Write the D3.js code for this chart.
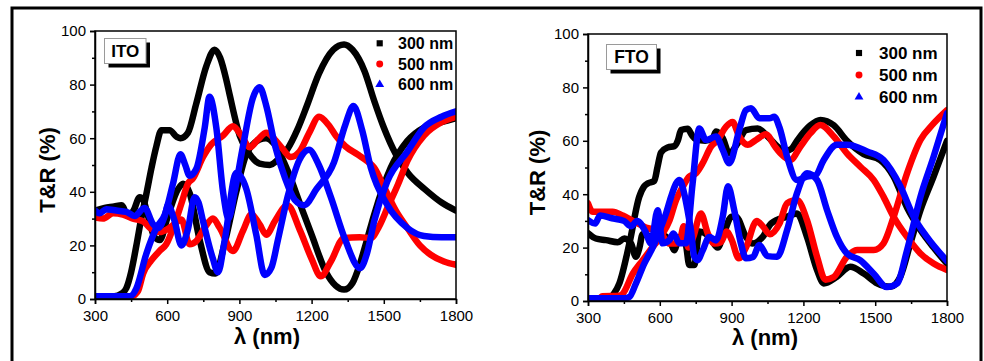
<!DOCTYPE html>
<html>
<head>
<meta charset="utf-8">
<script src="https://cdn.jsdelivr.net/npm/d3@7"></script>
<style>
  body { margin: 0; background: #fff; }
  svg { display: block; }
  text { font-family: "Liberation Sans", Arial, sans-serif; }
</style>
</head>
<body>
<div id="chart"></div>
<script>
// ---- data: [wavelength (nm), T or R (%)] ----
const films = ["300 nm", "500 nm", "600 nm"];
const xTicks = [300, 600, 900, 1200, 1500, 1800];
const xMinor = [450, 750, 1050, 1350, 1650];
const yTicks = [0, 20, 40, 60, 80, 100];
const yMinor = [10, 30, 50, 70, 90];

// ITO
const ito300T = [[300,1],[380,1],[410,2],[430,4],[450,10],[472,20],[492,30],[513,39],[535,49],[555,57],[576,63],[610,63],[640,60.5],[655,60],[686,62],[721,73],[763,87],[797,93],[820,90],[845,82],[860,76],[901,61],[943,54],[984,50.5],[1026,50],[1060,52],[1100,56],[1140,63],[1180,72],[1230,84],[1290,93],[1335,95],[1370,93],[1420,85],[1460,74],[1500,64],[1550,54],[1600,47],[1670,41],[1740,36],[1800,33]];
const ito300R = [[300,33],[340,34],[380,34.5],[410,35],[437,31],[460,33],[486,38],[500,37],[520,31],[548,23],[569,22],[603,31],[645,41],[666,43],[693,39.6],[735,22],[776,10],[800,9.5],[839,21],[887,40],[929,54],[984,59.5],[1010,60],[1044,58],[1100,48],[1150,36],[1200,24],[1260,10],[1300,5],[1335,3.5],[1370,6],[1404,14],[1430,22],[1460,31.5],[1529,49],[1598,59],[1667,64],[1740,66],[1800,67.5]];
const ito500T = [[300,1],[451,1],[470,2],[479,3],[500,9.5],[534,14.4],[569,18],[596,20.4],[631,28],[659,35.6],[686,43],[707,45],[749,53],[783,57.7],[832,61],[873,64.5],[908,61],[943,56.6],[977,59.5],[1012,62],[1047,59.5],[1080,56],[1113,53],[1150,55],[1190,62],[1231,68],[1270,65],[1300,61],[1340,57],[1390,54],[1430,51.5],[1460,49],[1500,42],[1550,33],[1598,26.5],[1650,20],[1695,16.5],[1750,14],[1800,12.8]];
const ito500R = [[300,30.4],[333,30],[375,32],[416,31.5],[458,30],[500,29],[527,26.6],[569,25],[600,26],[630,28],[659,29.7],[693,20.4],[721,21.6],[756,26.6],[790,30],[818,26.6],[873,17.9],[915,25.5],[950,31.6],[984,27.8],[1012,24],[1047,29],[1100,35],[1150,26],[1200,15],[1238,8.5],[1280,14],[1335,22.8],[1400,23],[1446,22.8],[1480,27],[1515,34],[1560,43],[1598,51.5],[1667,61],[1740,66],[1800,68]];
const ito600T = [[300,1],[444,1],[472,4],[513,16.8],[555,26.5],[590,31.5],[624,43],[655,54],[675,50],[693,46],[721,48.6],[756,64],[776,75.5],[804,64],[832,40],[855,30],[880,40],[915,57],[956,75],[984,79],[1012,72],[1047,57.6],[1090,45],[1130,37],[1169,35],[1220,41],[1293,51],[1340,65],[1374,72],[1410,63],[1446,49],[1515,35],[1598,26.5],[1667,23.5],[1740,23],[1800,23]];
const ito600R = [[300,33],[320,32],[347,33.5],[389,33],[430,32.5],[465,31],[506,34],[541,28],[562,26.5],[590,31],[603,35],[631,29],[659,20],[686,26],[714,38],[730,36],[749,29],[790,15],[811,10],[839,22],[887,47],[929,41],[970,24],[1005,9],[1033,11.7],[1060,22],[1100,38],[1150,52],[1189,55.7],[1230,50],[1280,38],[1340,22],[1401,11.5],[1430,17],[1460,29],[1515,44],[1598,55],[1667,64],[1740,68],[1800,70]];

// FTO
const fto300T = [[300,1],[389,1],[410,3],[431,6.6],[473,21.6],[514,39],[535,43],[549,44],[577,45],[590,50],[605,55.6],[633,57.5],[661,58],[675,60],[689,64],[716,64.5],[735,62],[751,60.5],[790,60],[821,61],[835,63.5],[863,61],[890,55.3],[925,59],[960,64],[1009,64.6],[1051,61.6],[1090,58],[1118,56],[1150,57],[1173,60],[1229,65.8],[1271,67.8],[1327,65.8],[1382,60],[1452,55],[1521,52.8],[1577,46.6],[1633,35],[1689,26.6],[1744,20],[1800,14]];
const fto300R = [[300,25.4],[333,23.4],[375,22.8],[424,22],[452,23.4],[480,21.5],[500,16.6],[515,20],[528,25],[570,24],[612,24.7],[647,21.5],[660,19],[682,24],[709,21],[723,13.5],[744,13.5],[765,26],[807,24],[842,20],[870,26],[900,31.6],[918,31.6],[960,24],[988,21.5],[1030,24],[1065,29],[1132,31.6],[1173,32.8],[1215,24],[1257,11.6],[1285,6.6],[1340,9.1],[1396,12.8],[1452,10.3],[1508,6.6],[1563,5.3],[1605,9.1],[1647,21.6],[1689,34],[1744,46.6],[1800,60]];
const fto500T = [[300,1],[347,1],[360,1.8],[430,2],[445,2.7],[487,10.2],[528,15.2],[570,20.2],[612,25.2],[640,30],[668,37.8],[696,42.8],[723,46.6],[751,47.8],[779,51.6],[814,57.8],[842,60.3],[877,65.3],[904,67],[932,61.6],[967,58.5],[1002,60.3],[1044,62.5],[1080,58],[1104,55.3],[1145,52.8],[1187,57.8],[1229,62.8],[1271,65.9],[1327,61.6],[1382,55.3],[1438,50.3],[1494,45.3],[1535,39],[1577,31.5],[1633,24],[1689,17.8],[1744,14],[1800,11.6]];
const fto500R = [[300,36.6],[320,33.4],[361,33.4],[403,33.4],[445,32],[487,30],[514,28.8],[542,27.5],[570,27],[590,27],[605,25.4],[640,21.5],[668,21.5],[682,22],[700,28],[720,20],[740,24],[772,32.8],[800,25.4],[828,21.5],[855,22],[880,26],[900,23],[930,16],[960,20],[1005,30],[1030,28],[1060,25],[1100,29],[1132,36.6],[1173,37.8],[1215,30.3],[1257,16.6],[1292,8],[1327,9],[1382,16.6],[1424,19.1],[1494,19.1],[1535,21.6],[1577,31.5],[1633,47.8],[1689,60.3],[1744,66.5],[1800,71.5]];
const fto600T = [[300,1],[452,1],[473,1.5],[500,6.5],[535,14],[570,20],[605,27.7],[626,32.8],[647,39],[668,44],[682,45.3],[702,40.3],[716,34],[730,26.6],[744,16.6],[758,15.3],[779,18.9],[807,24],[835,22.7],[863,31.6],[885,43],[911,34],[939,21.5],[960,16],[990,16.5],[1016,21],[1050,16.8],[1090,16.6],[1132,26.6],[1173,40.3],[1215,47.8],[1257,45.3],[1299,34],[1340,24],[1382,17.8],[1438,15.2],[1494,10.2],[1549,5.2],[1591,6.5],[1633,19],[1689,39],[1744,54],[1800,70.3]];
const fto600R = [[300,30.3],[330,29],[350,32],[400,31],[450,30],[480,28],[505,30],[540,26],[563,21.6],[591,34],[612,21.6],[640,22.8],[657,25.3],[682,21.6],[709,21.6],[737,44],[765,64.6],[793,60.3],[835,61.6],[863,56.6],[890,51.6],[932,64],[960,71.5],[981,72.2],[1016,68.4],[1058,68.4],[1078,69],[1100,65],[1132,54],[1173,45.3],[1215,46.6],[1250,47],[1285,52.8],[1340,58.5],[1382,58.5],[1466,56],[1535,52.8],[1605,43],[1661,31.5],[1716,24],[1800,15]];

const colors = ["#000000", "#ff0000", "#0000ff"];
const symbols = [d3.symbolSquare, d3.symbolCircle, d3.symbolTriangle];

const svg = d3.select("#chart").append("svg")
  .attr("width", 984)
  .attr("height", 361);

svg.append("rect").attr("width", 984).attr("height", 361).attr("fill", "#fff");

// outer frame of the figure
svg.append("path")
  .attr("d", "M12,361 L12,8 L981,8 L981,361")
  .attr("fill", "none")
  .attr("stroke", "#000")
  .attr("stroke-width", 3);

function drawPanel(p) {
  const x = d3.scaleLinear().domain([300, 1800]).range([p.left, p.right]);
  const y = d3.scaleLinear().domain([0, 100]).range([p.bottom, p.top]);

  svg.append("clipPath").attr("id", "clip-" + p.name)
    .append("rect")
    .attr("x", p.left).attr("y", p.top)
    .attr("width", p.right - p.left).attr("height", p.bottom - p.top);

  const line = d3.line()
    .x(d => x(d[0]))
    .y(d => y(d[1]))
    .curve(d3.curveMonotoneX);

  const curves = svg.append("g").attr("clip-path", `url(#clip-${p.name})`);
  p.series.forEach((pair, i) => {
    pair.forEach(s => {
      curves.append("path")
        .attr("d", line(s))
        .attr("fill", "none")
        .attr("stroke", colors[i])
        .attr("stroke-width", 6.5)
        .attr("stroke-linejoin", "round")
        .attr("stroke-linecap", "round");
    });
  });

  // plot frame
  svg.append("rect")
    .attr("x", p.left).attr("y", p.top)
    .attr("width", p.right - p.left).attr("height", p.bottom - p.top)
    .attr("fill", "none")
    .attr("stroke", "#000")
    .attr("stroke-width", 1.5);

  // X axis
  const gx = svg.append("g")
    .attr("transform", `translate(0,${p.bottom})`)
    .call(d3.axisBottom(x).tickValues(xTicks).tickSize(5).tickPadding(6.5).tickFormat(d3.format("d")));
  svg.append("g")
    .attr("transform", `translate(0,${p.bottom})`)
    .call(d3.axisBottom(x).tickValues(xMinor).tickSize(3).tickFormat(""))
    .select(".domain").remove();

  // Y axis
  const gy = svg.append("g")
    .attr("transform", `translate(${p.left},0)`)
    .call(d3.axisLeft(y).tickValues(yTicks).tickSize(5).tickPadding(4));
  svg.append("g")
    .attr("transform", `translate(${p.left},0)`)
    .call(d3.axisLeft(y).tickValues(yMinor).tickSize(3).tickFormat(""))
    .select(".domain").remove();

  svg.selectAll(".tick line").attr("stroke-width", 1.5);
  [gx, gy].forEach(g => {
    g.select(".domain").attr("stroke-width", 1.5);
    g.selectAll("text")
      .attr("font-size", 15)
      .attr("font-family", "Liberation Sans, Arial, sans-serif")
      .attr("fill", "#000");
  });

  // axis titles
  svg.append("text")
    .attr("transform", `translate(${p.yTitleX},${(p.top + p.bottom) / 2 + 5}) rotate(-90)`)
    .attr("text-anchor", "middle")
    .attr("font-size", 22)
    .attr("font-weight", "bold")
    .text("T&R (%)");

  svg.append("text")
    .attr("x", p.xTitleX)
    .attr("y", p.xTitleY)
    .attr("text-anchor", "middle")
    .attr("font-size", 22)
    .attr("font-weight", "bold")
    .text("λ (nm)");

  // label box with shadow
  const b = p.box;
  svg.append("rect")
    .attr("x", b.x + 4).attr("y", b.y + 4)
    .attr("width", b.w).attr("height", b.h)
    .attr("fill", "#000");
  svg.append("rect")
    .attr("x", b.x).attr("y", b.y)
    .attr("width", b.w).attr("height", b.h)
    .attr("fill", "#fff")
    .attr("stroke", "#9a9a9a")
    .attr("stroke-width", 1);
  svg.append("text")
    .attr("x", b.x + b.w / 2)
    .attr("y", b.y + b.h / 2 + 6)
    .attr("text-anchor", "middle")
    .attr("font-size", b.fs)
    .attr("font-weight", "bold")
    .text(p.name);

  // legend
  const lg = p.legend;
  films.forEach((f, i) => {
    svg.append("path")
      .attr("d", d3.symbol().type(symbols[i]).size(i === 2 ? 34 : 38)())
      .attr("transform", `translate(${lg.sx},${lg.y0 + i * lg.dy})`)
      .attr("fill", colors[i]);
    svg.append("text")
      .attr("x", lg.tx)
      .attr("y", lg.y0 + i * lg.dy + lg.fs * 0.36)
      .attr("font-size", lg.fs)
      .attr("font-weight", "bold")
      .text(f);
  });
}

drawPanel({
  name: "ITO",
  left: 95, right: 456, top: 31, bottom: 299,
  series: [[ito300T, ito300R], [ito500T, ito500R], [ito600T, ito600R]],
  yTitleX: 55, xTitleX: 267, xTitleY: 344,
  box: { x: 104.5, y: 38.5, w: 41.5, h: 25, fs: 17 },
  legend: { sx: 379.7, tx: 398, y0: 43.3, dy: 20.6, fs: 16 }
});

drawPanel({
  name: "FTO",
  left: 588, right: 947, top: 34, bottom: 301,
  series: [[fto300T, fto300R], [fto500T, fto500R], [fto600T, fto600R]],
  yTitleX: 545, xTitleX: 765, xTitleY: 345,
  box: { x: 606.5, y: 44.5, w: 50, h: 25, fs: 17.5 },
  legend: { sx: 859, tx: 879, y0: 53, dy: 22, fs: 17 }
});
</script>
</body>
</html>
